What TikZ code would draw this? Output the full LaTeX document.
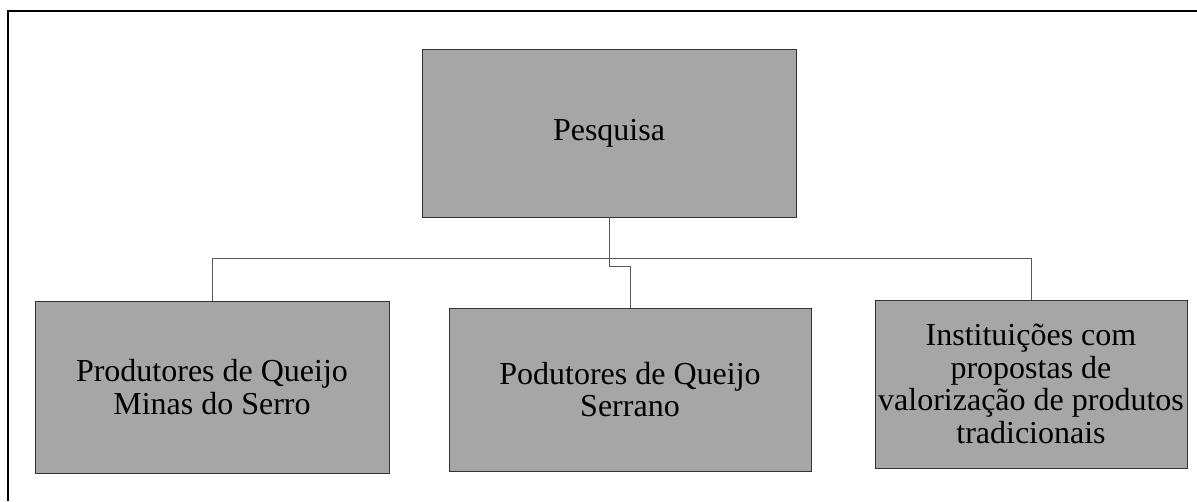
\documentclass[tikz,border=0pt]{standalone}
\usepackage{fontspec}
\setmainfont{Liberation Serif}
\begin{document}
\begin{tikzpicture}[x=1pt,y=-1pt,
  box/.style={draw=black!80,fill=black!35,line width=0.9pt,inner sep=0pt,align=center,
    font=\fontsize{32}{32.7}\selectfont},
  conn/.style={draw=black!65,line width=1pt},
  frame/.style={draw=black,line width=2pt}]
\useasboundingbox (0,0) rectangle (1197,501);
\draw[frame] (8,501) -- (8,10.5) -- (1197,10.5);
\node[box,minimum width=374pt,minimum height=168pt] (pes) at (609,133) {Pesquisa};
\node[box,minimum width=354pt,minimum height=172pt] (pro) at (212,387) {Produtores de Queijo\\Minas do Serro};
\node[box,minimum width=362pt,minimum height=163pt] (ser) at (630,389.5) {Podutores de Queijo\\Serrano};
\node[box,minimum width=312pt,minimum height=168pt] (ins) at (1031,384) {Instituições com\\propostas de\\valorização de produtos\\tradicionais};
\coordinate (bus) at (0,258);
\coordinate (jog) at (609,266);
\draw[conn] (pro.north) -- (pro.north |- bus) -- (ins.north |- bus) -- (ins.north);
\draw[conn] (pes.south) -- (jog) -| (ser.north);
\end{tikzpicture}
\end{document}
